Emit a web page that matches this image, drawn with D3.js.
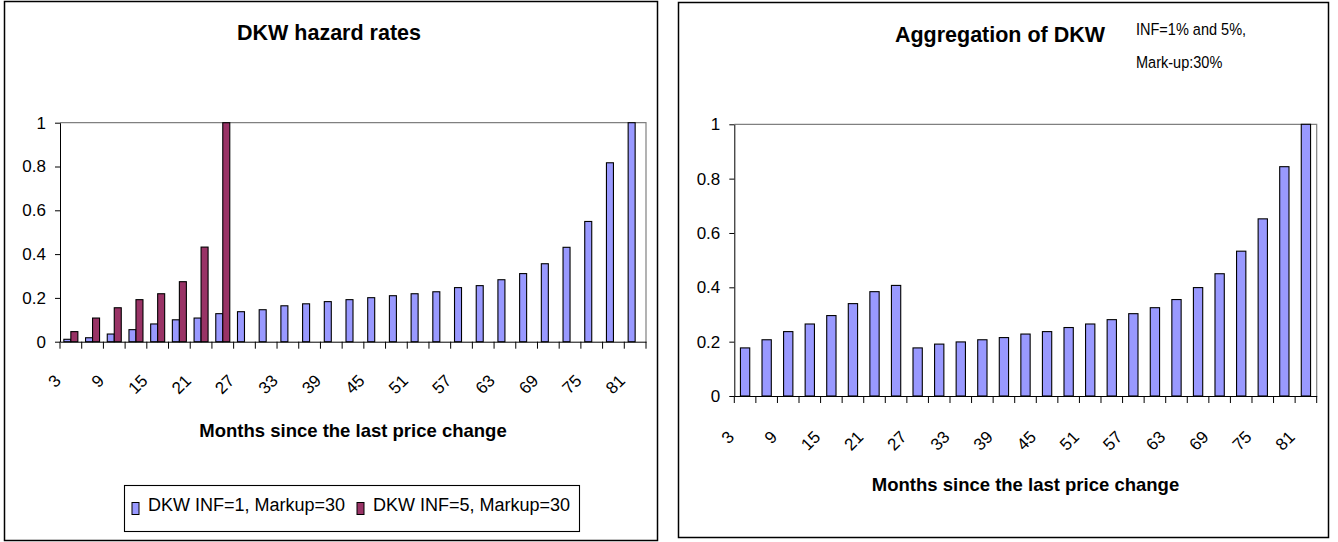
<!DOCTYPE html>
<html><head><meta charset="utf-8">
<script src="https://cdn.jsdelivr.net/npm/d3@7"></script>
<style>
html,body{margin:0;padding:0;background:#fff;}
svg{display:block;font-family:"Liberation Sans",Arial,sans-serif;}
</style></head>
<body>
<svg id="chart" width="1338" height="542"></svg>
<script>
// ---- data ----
const months = [3,6,9,12,15,18,21,24,27,30,33,36,39,42,45,48,51,54,57,60,63,66,69,72,75,78,81];
const tickLabels = ["3","9","15","21","27","33","39","45","51","57","63","69","75","81"];
const yTicks = [0,0.2,0.4,0.6,0.8,1];
const seriesNames = ["DKW INF=1, Markup=30","DKW INF=5, Markup=30"];
const dkwInf1 = [0.011,0.018,0.035,0.055,0.081,0.100,0.108,0.128,0.137,0.146,0.164,0.173,0.183,0.192,0.201,0.210,0.219,0.228,0.247,0.256,0.283,0.311,0.356,0.431,0.549,0.817,1.0];
const dkwInf5 = [0.046,0.108,0.155,0.192,0.219,0.274,0.432,1.0];
const aggregation = [0.177,0.207,0.237,0.265,0.296,0.340,0.384,0.407,0.177,0.191,0.199,0.207,0.215,0.228,0.237,0.252,0.265,0.281,0.303,0.325,0.355,0.399,0.450,0.533,0.652,0.844,1.0];
const titleLeft = "DKW hazard rates";
const titleRight = "Aggregation of DKW";
const noteLines = ["INF=1% and 5%,","Mark-up:30%"];
const xTitle = "Months since the last price change";

const colors = ["#9999FF","#993366"];
const svg = d3.select("#chart");

function panel(box){
  svg.append("rect").attr("x",box[0]+0.5).attr("y",box[1]+0.5)
    .attr("width",box[2]-box[0]).attr("height",box[3]-box[1])
    .attr("fill","#fff").attr("stroke","#000").attr("stroke-width",1.5);
}

function drawChart(cfg){
  const g = svg.append("g");
  const x = d3.scaleBand().domain(months).range([cfg.left,cfg.right]).paddingInner(0).paddingOuter(0);
  const y = d3.scaleLinear().domain([0,1]).range([cfg.bottom,cfg.top]);
  g.append("path").attr("d",`M${cfg.left},${y(1)}H${cfg.right}V${y(0)}`)
    .attr("fill","none").attr("stroke","#808080").attr("stroke-width",1.2);
  const ya = g.append("g").attr("transform",`translate(${cfg.left},0)`)
    .call(d3.axisLeft(y).tickValues(yTicks).tickSize(5).tickSizeOuter(0).tickPadding(9).tickFormat(d=>String(d)));
  ya.select(".domain").attr("stroke","#000");
  ya.selectAll("text").attr("font-size",17).attr("fill","#000").attr("font-family","Liberation Sans, Arial, sans-serif");
  const xa = g.append("g").attr("transform",`translate(0,${y(0)})`)
    .call(d3.axisBottom(x).tickSize(0).tickSizeOuter(0).tickFormat(""));
  xa.select(".domain").attr("stroke","#000");
  const bounds = months.map(m=>x(m)).concat([x(months[months.length-1])+x.bandwidth()]);
  g.selectAll(null).data(bounds).enter().append("line")
    .attr("x1",d=>d).attr("x2",d=>d).attr("y1",y(0)).attr("y2",y(0)+7)
    .attr("stroke","#000");
  g.selectAll(null).data(months.filter((m,i)=>i%2===0)).enter().append("text")
    .attr("transform",(m,i)=>`translate(${x(m)+x.bandwidth()/2+cfg.lx},${y(0)+cfg.ly}) rotate(-45)`)
    .attr("text-anchor","end").attr("font-size",17).text((m,i)=>tickLabels[i]);
  cfg.series.forEach((s,si)=>{
    const sub = d3.scaleBand().domain(cfg.subDomain).range([0,x.bandwidth()]).paddingInner(0).paddingOuter(cfg.outerPad);
    g.selectAll(null).data(s.values).enter().append("rect")
      .attr("x",(v,i)=>x(months[i])+sub(s.key))
      .attr("width",sub.bandwidth())
      .attr("y",v=>y(v)).attr("height",v=>y(0)-y(v))
      .attr("fill",s.color).attr("stroke","#000").attr("stroke-width",1.1);
  });
  g.append("text").attr("x",(cfg.left+cfg.right)/2).attr("y",cfg.xTitleY)
    .attr("text-anchor","middle").attr("font-weight","bold").attr("font-size",18.5).text(xTitle);
  return {x,y};
}

// left panel
panel([4,1,657,540]);
drawChart({left:60,right:646,top:122.7,bottom:341.7,lx:-9,ly:40,xTitleY:436.5,
  subDomain:["a","b"],outerPad:0.55,
  series:[{key:"a",values:dkwInf1,color:colors[0]},{key:"b",values:dkwInf5,color:colors[1]}]});
svg.append("text").attr("x",329).attr("y",40).attr("text-anchor","middle")
  .attr("font-weight","bold").attr("font-size",21.5).text(titleLeft);
const lg = svg.append("g");
lg.append("rect").attr("x",124.5).attr("y",485.5).attr("width",455).attr("height",46)
  .attr("fill","#fff").attr("stroke","#000").attr("stroke-width",1.1);
const legX = [132,357];
seriesNames.forEach((n,i)=>{
  lg.append("rect").attr("x",legX[i]).attr("y",502.5).attr("width",7).attr("height",12)
    .attr("fill",colors[i]).attr("stroke","#000").attr("stroke-width",1);
  lg.append("text").attr("x",legX[i]+16).attr("y",511).attr("font-size",18).text(n);
});

// right panel
panel([678,2,1328,537]);
drawChart({left:734.3,right:1316.7,top:124.3,bottom:396,lx:-10,ly:42,xTitleY:491,
  subDomain:["a"],outerPad:0.66,
  series:[{key:"a",values:aggregation,color:colors[0]}]});
svg.append("text").attr("x",1000).attr("y",42).attr("text-anchor","middle")
  .attr("font-weight","bold").attr("font-size",21.5).text(titleRight);
svg.selectAll(null).data(noteLines).enter().append("text")
  .attr("transform",(d,i)=>`translate(1136,${35+i*33}) scale(0.88,1)`)
  .attr("font-size",16.5).text(d=>d);
</script>
</body></html>
